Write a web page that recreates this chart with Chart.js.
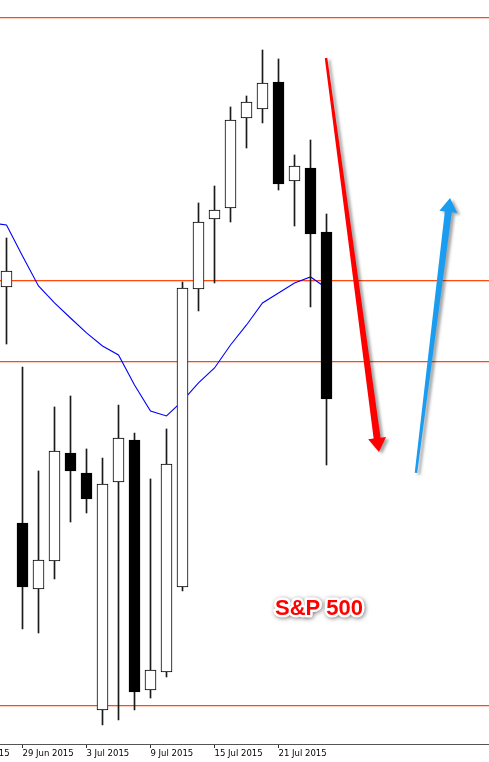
<!DOCTYPE html>
<html><head><meta charset="UTF-8"><title>S&P 500 daily</title>
<script src="https://cdn.jsdelivr.net/npm/chart.js"></script>
<style>html,body{margin:0;padding:0;background:#fff;} #wrap{width:489px;height:762px;}</style>
</head><body>
<div id="wrap"><canvas id="chart"></canvas></div>
<script>
// --- data: S&P 500 daily candles ---
const dates = ['26 Jun','29 Jun','30 Jun','1 Jul','2 Jul','3 Jul','6 Jul','7 Jul','8 Jul','9 Jul','10 Jul',
               '13 Jul','14 Jul','15 Jul','16 Jul','17 Jul','20 Jul','21 Jul','22 Jul','23 Jul','24 Jul'];
const opens  = [2104.13,2074.63,2066.38,2069.88,2083.38,2080.88,2051.25,2079.75,2085.00,2053.75,2056.00,
                2066.63,2103.88,2112.63,2114.00,2125.25,2126.38,2129.75,2117.38,2119.00,2111.00];
const highs  = [2110.25,2094.13,2081.13,2089.13,2090.50,2083.88,2082.75,2089.38,2085.88,2080.13,2086.38,
                2104.75,2114.63,2116.75,2126.63,2128.00,2133.75,2132.63,2120.63,2122.50,2113.25];
const lows   = [2097.00,2061.38,2060.88,2067.63,2074.75,2075.88,2049.38,2050.00,2051.25,2052.75,2055.38,
                2066.13,2101.13,2104.63,2112.25,2121.50,2124.63,2116.25,2111.75,2101.63,2081.88];
const closes = [2106.13,2066.63,2070.00,2083.63,2081.13,2077.63,2079.50,2085.25,2053.50,2056.25,2082.00,
                2104.00,2112.25,2113.75,2125.00,2127.25,2129.63,2117.00,2119.25,2110.75,2090.13];

// moving average, starts one bar before the first visible candle
const maStart = -1;
const maValues = [2112.13,2111.88,2108.00,2104.25,2102.13,2100.25,2098.38,2096.75,2095.63,2091.88,2088.63,
                  2088.00,2089.88,2092.13,2094.00,2096.88,2099.38,2102.13,2103.38,2104.63,2105.38,2104.00];

// horizontal levels (price)
const levels = [2137.88, 2105.00, 2094.88, 2051.88];

// x axis ticks (bar index) and their labels
const tickIndex  = [-3, 1, 5, 9, 13, 17];
const tickLabels = ['23 Jun 2015','29 Jun 2015','3 Jul 2015','9 Jul 2015','15 Jul 2015','21 Jul 2015'];

// arrows: [bar index, price] from -> to
const arrowFrom = [[19.97, 2132.75], [25.59, 2080.88]];
const arrowTo   = [[23.28, 2083.50], [27.72, 2115.25]];
const titleText = 'S&P 500';
const titleAt   = [19.53, 2063.88];

// --- build datasets ---
const idx = dates.map((d, i) => i);
const wickData = idx.map(i => ({ x: i, y: [lows[i], highs[i]] }));
const bodyData = idx.map(i => ({ x: i, y: [opens[i], closes[i]] }));
const bodyFill = idx.map(i => closes[i] >= opens[i] ? '#ffffff' : '#000000');
const maData = maValues.map((v, k) => ({ x: maStart + k, y: v }));

// plot width 489px, one bar = 16px, first candle centred at 6.5px
const xMin = -6.5 / 16;
const xMax = xMin + 489 / 16;

function drawArrow(ctx, x0, y0, x1, y1, w0, w1, headLen, headW) {
    const len = Math.hypot(x1 - x0, y1 - y0);
    const ux = (x1 - x0) / len, uy = (y1 - y0) / len;
    const nx = -uy, ny = ux;
    const bx = x1 - ux * headLen, by = y1 - uy * headLen;
    ctx.beginPath();
    ctx.moveTo(x0 + nx * w0 / 2, y0 + ny * w0 / 2);
    ctx.lineTo(bx + nx * w1 / 2, by + ny * w1 / 2);
    ctx.lineTo(bx + nx * headW / 2, by + ny * headW / 2);
    ctx.lineTo(x1, y1);
    ctx.lineTo(bx - nx * headW / 2, by - ny * headW / 2);
    ctx.lineTo(bx - nx * w1 / 2, by - ny * w1 / 2);
    ctx.lineTo(x0 - nx * w0 / 2, y0 - ny * w0 / 2);
    ctx.closePath();
    ctx.fill();
}

// levels behind candles, arrows + label on top
const overlay = {
    id: 'overlay',
    beforeDatasetsDraw(chart) {
        const { ctx, chartArea, scales: { y } } = chart;
        const w = chartArea.right - chartArea.left;
        ctx.save();
        levels.forEach(v => {
            const py = Math.round(y.getPixelForValue(v));
            ctx.fillStyle = '#ff4a10';
            ctx.fillRect(chartArea.left, py, w, 1);
            ctx.fillStyle = 'rgba(255,90,40,0.3)';
            ctx.fillRect(chartArea.left, py + 1, w, 1);
        });
        ctx.restore();
    },
    afterDatasetsDraw(chart) {
        const { ctx, scales: { x, y } } = chart;
        const colors = ['#ff0000', '#1a9cf0'];
        ctx.save();
        ctx.shadowColor = 'rgba(0,0,0,0.35)';
        ctx.shadowOffsetX = 3;
        ctx.shadowOffsetY = 2;
        ctx.shadowBlur = 3;
        arrowFrom.forEach((f, k) => {
            ctx.fillStyle = colors[k];
            drawArrow(ctx,
                x.getPixelForValue(f[0]), y.getPixelForValue(f[1]),
                x.getPixelForValue(arrowTo[k][0]), y.getPixelForValue(arrowTo[k][1]),
                2.5, 7, 14, 18);
        });
        // title with white outline
        const tx = x.getPixelForValue(titleAt[0]), ty = y.getPixelForValue(titleAt[1]);
        ctx.font = 'bold 22px "Liberation Sans", Arial, sans-serif';
        ctx.textAlign = 'center';
        ctx.textBaseline = 'middle';
        ctx.shadowColor = 'rgba(0,0,0,0.5)';
        ctx.shadowOffsetX = 1;
        ctx.shadowOffsetY = 1;
        ctx.shadowBlur = 4;
        ctx.lineJoin = 'round';
        ctx.strokeStyle = '#ffffff';
        ctx.lineWidth = 5;
        ctx.strokeText(titleText, tx, ty);
        ctx.shadowColor = 'transparent';
        ctx.fillStyle = '#ff0000';
        ctx.fillText(titleText, tx, ty);
        ctx.restore();
    }
};

new Chart(document.getElementById('chart'), {
    type: 'bar',
    data: {
        datasets: [
            { type: 'line', data: maData, borderColor: '#0000ff', borderWidth: 1.1, pointRadius: 0, tension: 0, order: 3 },
            { data: wickData, backgroundColor: '#1a1a1a', borderWidth: 0, barThickness: 1, grouped: false, order: 2 },
            { data: bodyData, backgroundColor: bodyFill, borderColor: '#000000', borderWidth: 1,
              borderSkipped: false, barThickness: 11, grouped: false, order: 1 }
        ]
    },
    options: {
        responsive: true,
        maintainAspectRatio: false,
        animation: false,
        layout: { padding: { left: 0, right: 0, top: 0, bottom: 3 } },
        plugins: { legend: { display: false }, tooltip: { enabled: false } },
        scales: {
            x: {
                type: 'linear', min: xMin, max: xMax, offset: false,
                border: { display: true, color: '#555555', width: 1 },
                grid: { offset: false, drawOnChartArea: false, drawTicks: true, tickLength: 4, tickColor: '#333333' },
                ticks: {
                    autoSkip: false, maxRotation: 0, align: 'start', padding: 0, color: '#000',
                    font: { family: '"DejaVu Sans", sans-serif', size: 8.5, lineHeight: 11 / 8.5 },
                    callback: (v) => tickLabels[tickIndex.indexOf(v)]
                },
                afterBuildTicks: (scale) => { scale.ticks = tickIndex.map(v => ({ value: v })); },
                afterFit: (scale) => { scale.paddingLeft = 0; scale.paddingRight = 0; }
            },
            y: { display: false, min: 2047, max: 2140 }
        }
    },
    plugins: [overlay]
});
</script>
</body></html>
